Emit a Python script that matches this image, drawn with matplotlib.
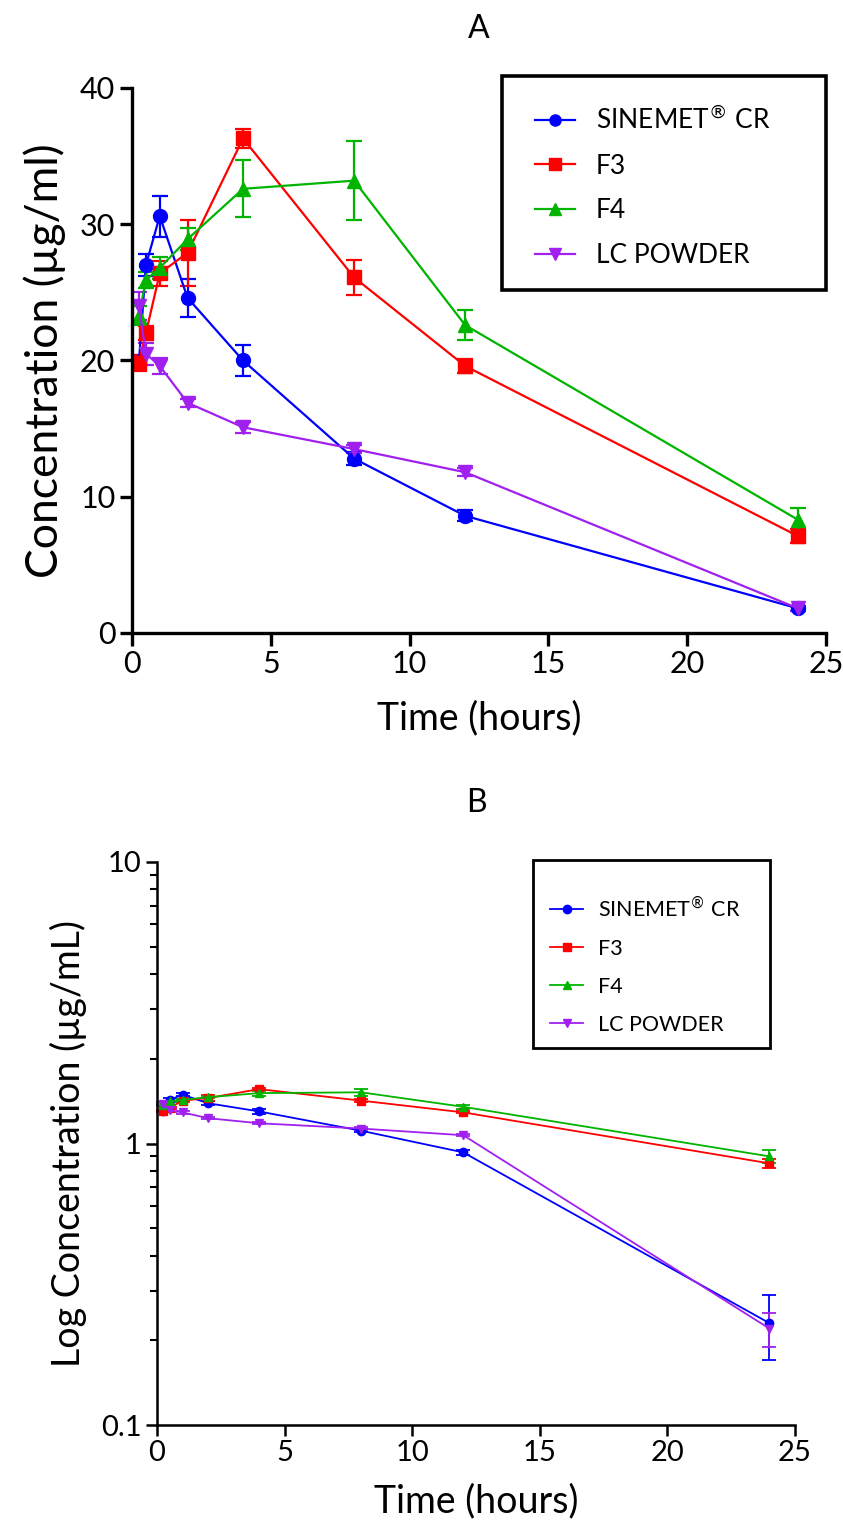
import matplotlib
matplotlib.use("Agg")
import matplotlib.pyplot as plt
from matplotlib.lines import Line2D
from matplotlib.patches import Rectangle
from matplotlib.ticker import FixedLocator, NullFormatter, LogLocator

plt.rcParams["font.family"] = ["Lato", "DejaVu Sans"]
plt.rcParams["mathtext.fontset"] = "dejavusans"

# sampling times (hours)
times = [0.25, 0.5, 1, 2, 4, 8, 12, 24]

# panel A - concentration (ug/ml), mean and error
sinemet = [19.9, 27.0, 30.6, 24.6, 20.0, 12.8, 8.6, 1.8]
sinemet_err = [0.5, 0.8, 1.5, 1.4, 1.15, 0.5, 0.4, 0.2]
f3 = [19.8, 22.0, 26.4, 27.9, 36.3, 26.1, 19.6, 7.1]
f3_err = [0.6, 0.5, 0.9, 2.4, 0.7, 1.3, 0.5, 0.5]
f4 = [23.3, 25.9, 26.8, 28.9, 32.6, 33.2, 22.6, 8.3]
f4_err = [0.7, 0.6, 0.8, 0.8, 2.1, 2.9, 1.1, 0.9]
lc = [24.0, 20.5, 19.6, 16.9, 15.1, 13.5, 11.8, 1.8]
lc_err = [1.0, 0.8, 0.6, 0.3, 0.4, 0.3, 0.3, 0.2]

# panel B - log concentration, mean and error
sinemet_b = [1.30, 1.43, 1.49, 1.39, 1.30, 1.11, 0.93, 0.23]
sinemet_b_err = [0.01, 0.015, 0.02, 0.025, 0.025, 0.015, 0.02, 0.06]
f3_b = [1.30, 1.34, 1.42, 1.45, 1.56, 1.42, 1.29, 0.85]
f3_b_err = [0.01, 0.01, 0.015, 0.035, 0.01, 0.02, 0.01, 0.03]
f4_b = [1.37, 1.41, 1.43, 1.46, 1.51, 1.52, 1.35, 0.90]
f4_b_err = [0.015, 0.01, 0.01, 0.01, 0.03, 0.04, 0.02, 0.05]
lc_b = [1.38, 1.31, 1.29, 1.23, 1.18, 1.13, 1.07, 0.22]
lc_b_err = [0.02, 0.02, 0.015, 0.01, 0.01, 0.01, 0.01, 0.03]

labels = [r"SINEMET$^{\circledR}$ CR", "F3", "F4", "LC POWDER"]
colors = ["#0000ff", "#ff0000", "#00b400", "#a020f0"]
markers = ["o", "s", "^", "v"]

W, H = 843, 1523
fig = plt.figure(figsize=(W / 100, H / 100), dpi=100)


def box(left, top, right, bottom):
    return [left / W, 1 - bottom / H, (right - left) / W, (bottom - top) / H]


def handles(ms, lw):
    return [Line2D([], [], color=c, marker=mk, markersize=ms, linewidth=lw)
            for c, mk in zip(colors, markers)]


def frame(left, top, right, bottom, lw):
    fig.patches.append(Rectangle((left / W, 1 - bottom / H),
                                 (right - left) / W, (bottom - top) / H,
                                 transform=fig.transFigure, fill=False,
                                 edgecolor="black", linewidth=lw))


# ---------------- panel A ----------------
ax = fig.add_axes(box(132, 88, 826, 633))
series_a = [(sinemet, sinemet_err), (f3, f3_err), (f4, f4_err), (lc, lc_err)]
for (m, e), c, mk in zip(series_a, colors, markers):
    ax.errorbar(times, m, yerr=e, color=c, marker=mk, markersize=10,
                linewidth=1.6, elinewidth=1.6, capsize=6, capthick=1.6,
                clip_on=False)
ax.set_xlim(0, 25)
ax.set_ylim(0, 40)
ax.set_xticks([0, 5, 10, 15, 20, 25])
ax.set_yticks([0, 10, 20, 30, 40])
for s in ["top", "right"]:
    ax.spines[s].set_visible(False)
for s in ["left", "bottom"]:
    ax.spines[s].set_linewidth(2.4)
ax.tick_params(length=9, width=2.4, labelsize=22, pad=3)
ax.set_xlabel("Time (hours)", fontsize=27, labelpad=16)
ax.set_ylabel("Concentration (µg/ml)", fontsize=32, labelpad=10)
ax.set_title("A", fontsize=23, pad=36)
ax.legend(handles(8, 1.6), labels, loc="upper left",
          bbox_to_anchor=(535 / W, 1 - 106 / H),
          bbox_transform=fig.transFigure, fontsize=19, frameon=False,
          borderpad=0, labelspacing=0.75, handlelength=1.5,
          handletextpad=0.8, borderaxespad=0)
frame(502, 76, 826, 290, 2.6)

# ---------------- panel B ----------------
bx = fig.add_axes(box(157, 862, 795, 1425))
series_b = [(sinemet_b, sinemet_b_err), (f3_b, f3_b_err),
            (f4_b, f4_b_err), (lc_b, lc_b_err)]
for (m, e), c, mk in zip(series_b, colors, markers):
    bx.errorbar(times, m, yerr=e, color=c, marker=mk, markersize=6,
                linewidth=1.3, elinewidth=1.3, capsize=5, capthick=1.3,
                clip_on=False)
bx.set_yscale("log")
bx.set_xlim(0, 25)
bx.set_ylim(0.1, 10)
bx.set_xticks([0, 5, 10, 15, 20, 25])
bx.yaxis.set_major_locator(FixedLocator([0.1, 1, 10]))
bx.set_yticklabels(["0.1", "1", "10"])
bx.yaxis.set_minor_locator(LogLocator(base=10, subs=range(2, 10)))
bx.yaxis.set_minor_formatter(NullFormatter())
for s in ["top", "right"]:
    bx.spines[s].set_visible(False)
for s in ["left", "bottom"]:
    bx.spines[s].set_linewidth(1.8)
bx.tick_params(which="major", length=8, width=1.8, labelsize=21, pad=3)
bx.tick_params(which="minor", length=5, width=1.5)
bx.set_xlabel("Time (hours)", fontsize=27, labelpad=12)
bx.set_ylabel("Log Concentration (µg/mL)", fontsize=27, labelpad=10)
bx.set_title("B", fontsize=23, pad=36)
bx.legend(handles(6, 1.3), labels, loc="upper left",
          bbox_to_anchor=(550 / W, 1 - 895 / H),
          bbox_transform=fig.transFigure, fontsize=15.5, frameon=False,
          borderpad=0, labelspacing=0.83, handlelength=1.55,
          handletextpad=0.7, borderaxespad=0)
frame(533, 860, 770, 1048, 2.0)

fig.savefig("out.png", dpi=100)
